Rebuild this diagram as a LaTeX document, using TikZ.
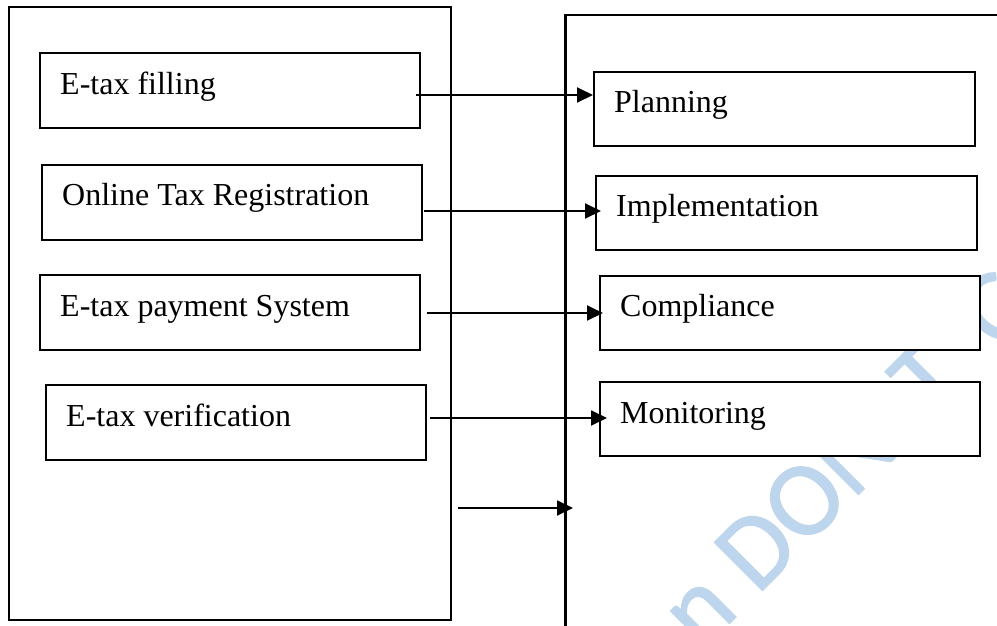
\documentclass[tikz,border=0pt]{standalone}
\usepackage{fontspec}
\setmainfont{Liberation Serif}
\newfontfamily\wmfont[FakeBold=1.2]{Carlito}
\usetikzlibrary{arrows.meta}
\definecolor{wmblue}{RGB}{190,214,237}
\begin{document}
\begin{tikzpicture}[x=1pt,y=-1pt,
  inbox/.style={draw,line width=1.8pt,fill=white,inner sep=0pt,anchor=north west,minimum width=380pt,minimum height=75pt},
  lbl/.style={anchor=base west,inner sep=0pt,font=\fontsize{32}{38}\selectfont},
  arr/.style={-{Triangle[length=16pt,width=15pt]},line width=1.9pt},
  outer/.style={line width=2.4pt},
  wm/.style={anchor=base west,inner sep=0pt,rotate=45,text=wmblue,font=\wmfont\fontsize{106}{120}\selectfont}]
\useasboundingbox (0,0) rectangle (997,625);
\clip (0,0) rectangle (997,625);
\fill[white] (0,0) rectangle (997,625);
% watermark
\node[wm] (wmtext) at (701,652) {n DON'\kern20pt T\kern20pt\ C};
% outer frames
\draw[outer] (9,7) rectangle (451,620);
\draw[outer] (565.5,640) -- (565.5,15) -- (1010,15);
% left boxes
\node[inbox] (L1) at (39,52) {};
\node[inbox] (L2) at (41,164) {};
\node[inbox] (L3) at (39,274) {};
\node[inbox] (L4) at (45,384) {};
\node[lbl] (tL1) at (60,94) {E-tax filling};
\node[lbl] (tL2) at (62,205) {Online Tax Registration};
\node[lbl] (tL3) at (60,316) {E-tax payment System};
\node[lbl] (tL4) at (66,426) {E-tax verification};
% right boxes
\node[inbox,minimum width=381pt,minimum height=74pt] (R1) at (593,71) {};
\node[inbox,minimum width=381pt,minimum height=74pt] (R2) at (595,175) {};
\node[inbox,minimum width=380pt,minimum height=74pt] (R3) at (599,275) {};
\node[inbox,minimum width=380pt,minimum height=74pt] (R4) at (599,381) {};
\node[lbl] (tR1) at (614,112) {Planning};
\node[lbl] (tR2) at (616,216) {Implementation};
\node[lbl] (tR3) at (620,316) {Compliance};
\node[lbl] (tR4) at (620,423) {Monitoring};
% connector ends
\coordinate (s1) at (415.5,95);
\coordinate (e1) at (593,95);
\coordinate (s2) at (423.5,211);
\coordinate (e2) at (601,211);
\coordinate (s3) at (426.5,313);
\coordinate (e3) at (603,313);
\coordinate (s4) at (430,418);
\coordinate (e4) at (607,418);
\coordinate (s5) at (457.5,508);
\coordinate (e5) at (573,508);
\draw[arr] (s1) -- (e1);
\draw[arr] (s2) -- (e2);
\draw[arr] (s3) -- (e3);
\draw[arr] (s4) -- (e4);
\draw[arr] (s5) -- (e5);
\end{tikzpicture}
\end{document}
